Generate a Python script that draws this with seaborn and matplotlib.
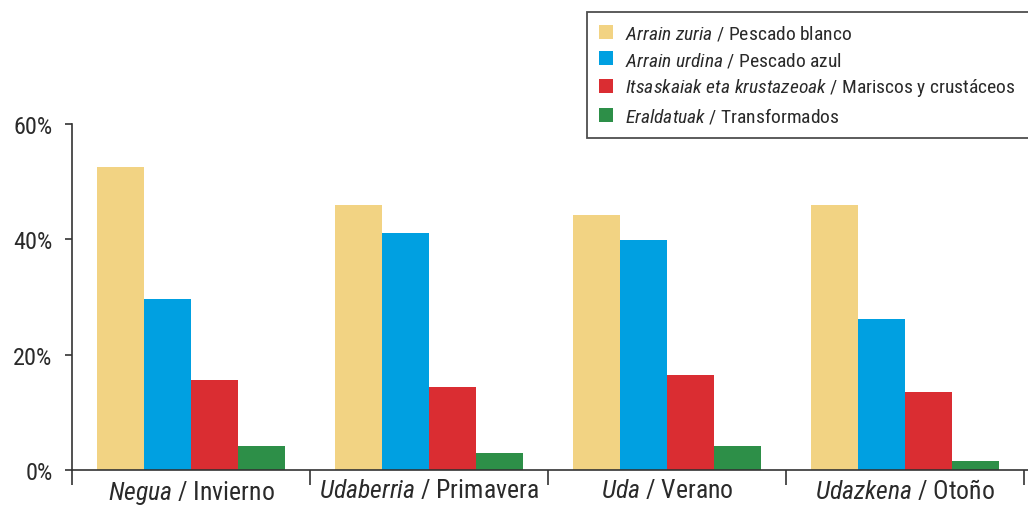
import pandas as pd
import matplotlib
matplotlib.use("Agg")
import matplotlib.pyplot as plt
import matplotlib.patches as mpatches
from matplotlib import font_manager
import seaborn as sns

# Data (% of consumption)
seasons = ["Negua", "Udaberria", "Uda", "Udazkena"]
season_es = ["Invierno", "Primavera", "Verano", "Otoño"]
types_eu = ["Arrain zuria", "Arrain urdina", "Itsaskaiak eta krustazeoak", "Eraldatuak"]
types_es = ["Pescado blanco", "Pescado azul", "Mariscos y crustáceos", "Transformados"]
colors = ["#F2D383", "#00A0E1", "#DA2D32", "#2D8F48"]

white_fish = [52.5, 45.9, 44.2, 45.9]
blue_fish = [29.6, 41.1, 39.9, 26.2]
seafood = [15.6, 14.4, 16.5, 13.5]
processed = [4.1, 2.9, 4.1, 1.6]

# long format for seaborn
rows = []
for name, vals in zip(types_eu, [white_fish, blue_fish, seafood, processed]):
    for s, v in zip(seasons, vals):
        rows.append({"season": s, "type": name, "value": v})
df = pd.DataFrame(rows)

sns.set_style("white")
installed = {f.name for f in font_manager.fontManager.ttflist}
base = "DejaVu Sans"
for cand in ["Roboto Condensed", "Open Sans Condensed", "Liberation Sans Narrow", "Lato", "Roboto"]:
    if cand in installed:
        base = cand
        break
plt.rcParams["font.family"] = [base, "DejaVu Sans"]
plt.rcParams["mathtext.fontset"] = "custom"
plt.rcParams["mathtext.rm"] = base
plt.rcParams["mathtext.it"] = base + ":italic"
text_color = "#2a2a2a"


def mixed(eu, es):
    # italic Basque part + regular Spanish part
    return r"$\mathit{" + eu.replace(" ", r"\ ") + "}$ / " + es


fig = plt.figure(figsize=(10.28, 5.06), dpi=100)
W, H = 1028, 506
ax = fig.add_axes([72 / W, (H - 471) / H, (W - 72) / W, (471 - 125) / H])

sns.barplot(data=df, x="season", y="value", hue="type", hue_order=types_eu,
            order=seasons, palette=colors, saturation=1, width=0.79,
            linewidth=0, legend=False, ax=ax)

ax.set_ylim(0, 60)
ax.set_xlim(-0.5, 3.517)
ax.set_yticks([0, 20, 40, 60])
ax.set_yticklabels(["0%", "20%", "40%", "60%"])
ax.set_xticks(range(4))
ax.set_xticklabels([mixed(a, b) for a, b in zip(seasons, season_es)])
ax.set_xticks([-0.5, 0.5, 1.5, 2.5, 3.5], minor=True)
ax.tick_params(axis="x", which="major", length=0, pad=6, labelsize=18.5,
               colors=text_color, bottom=True)
ax.tick_params(axis="x", which="minor", length=11, width=1.2, direction="out",
               color="#333333", bottom=True)
ax.tick_params(axis="y", length=5, width=1.2, direction="out", pad=9, labelsize=17.5,
               colors=text_color, color="#333333", left=True)
ax.set_xlabel("")
ax.set_ylabel("")
for side in ["top", "right"]:
    ax.spines[side].set_visible(False)
for side in ["left", "bottom"]:
    ax.spines[side].set_color("#333333")
    ax.spines[side].set_linewidth(1.2)

# legend with italic / regular labels
handles = [mpatches.Patch(facecolor=c, edgecolor="none") for c in colors]
labels = [mixed(a, b) for a, b in zip(types_eu, types_es)]
leg = fig.legend(handles, labels, loc="upper left",
                 bbox_to_anchor=(587 / W, 1 - 13 / H, (1035 - 587) / W, 0.0),
                 mode="expand", fontsize=14, frameon=True, fancybox=False,
                 edgecolor="#222222", handlelength=0.75, handleheight=0.75,
                 handletextpad=0.6, labelspacing=0.38, borderpad=0.6,
                 borderaxespad=0)
leg.get_frame().set_linewidth(1.3)
for t in leg.get_texts():
    t.set_color(text_color)

fig.savefig("out.png", dpi=100)
